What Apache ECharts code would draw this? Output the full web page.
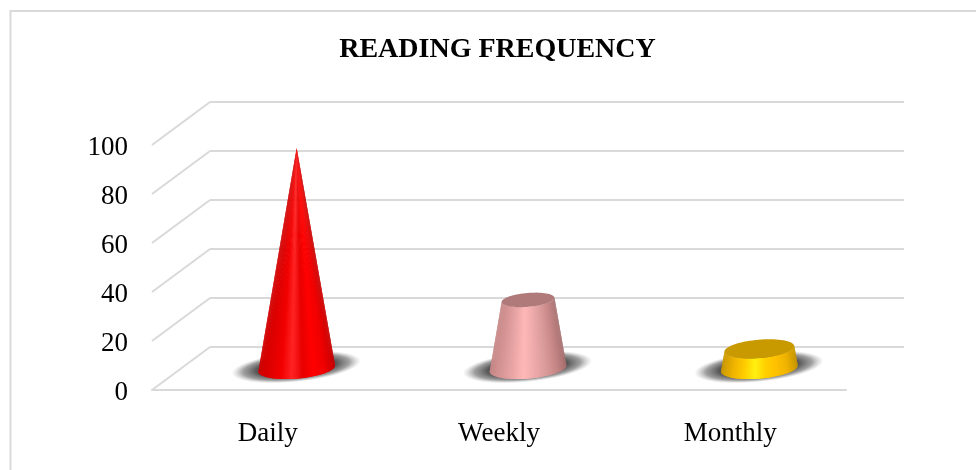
<!DOCTYPE html>
<html>
<head>
<meta charset="utf-8">
<style>html,body{margin:0;padding:0;background:#fff}#chart{width:976px;height:470px}</style>
<script src="https://cdn.jsdelivr.net/npm/echarts@6/dist/echarts.min.js"></script>
</head>
<body>
<div id="chart"></div>
<script>
const titleText = 'READING FREQUENCY';
const categories = ['Daily', 'Weekly', 'Monthly'];
const readingValues = [90, 28, 8];
const tickValues = [0, 20, 40, 60, 80, 100];
const bodyColors = [
  ['#c80000', '#f00000', '#ff0000', '#e80000', '#ff2424', '#f20000', '#e00000', '#d00000'],
  ['#a87070', '#c88888', '#dc9c9c', '#eeaaaa', '#ffb8b8', '#eaa6a6', '#d89696', '#c88888'],
  ['#c89600', '#f0b400', '#ffc000', '#ffd000', '#fff010', '#ffcc00', '#f0b400', '#cc9a00']
];
const capColors = ['#e00000', '#b07a7a', '#c99a00'];

const GRID_COLOR = '#d9d9d9';
const FONT = '"Liberation Serif", "Times New Roman", serif';
const DEPTH_X = 58, DEPTH_Y = 43;
const BASE_A = 38.5, FLAT = 0.262, TILT = 0.085;
const LABEL_SHIFT = 2.5;
const maxValue = Math.max.apply(null, readingValues);

function ellipsePoint(cx, cy, a, b, t) {
  const ex = a * Math.cos(t), ey = b * Math.sin(t);
  return [
    cx + ex * Math.cos(TILT) + ey * Math.sin(TILT),
    cy - ex * Math.sin(TILT) + ey * Math.cos(TILT)
  ];
}

function renderDiagonal(params, api) {
  const y = api.coord([0, api.value(0)])[1];
  const x = params.coordSys.x;
  return {
    type: 'line',
    shape: { x1: x, y1: y, x2: x + DEPTH_X, y2: y - DEPTH_Y },
    style: { stroke: GRID_COLOR, lineWidth: 2 }
  };
}

function renderCone(params, api) {
  const idx = api.value(0), val = api.value(1);
  const base = api.coord([idx, 0]);
  const top = api.coord([idx, val]);
  const cx = base[0] + DEPTH_X / 2;
  const by = base[1] - DEPTH_Y / 2;
  const ty = top[1] - DEPTH_Y / 2;
  const aTop = BASE_A * (1 - val / maxValue);
  const bTop = aTop * FLAT;
  const bBase = BASE_A * FLAT;
  const children = [];
  children.push({
    type: 'circle',
    shape: { cx: 0, cy: 0, r: 1 },
    x: cx - 0.5, y: by - 1.5,
    scaleX: 65, scaleY: 15,
    rotation: 0.1,
    style: {
      fill: new echarts.graphic.RadialGradient(0.5, 0.5, 0.5, [
        { offset: 0, color: 'rgba(84,84,84,1)' },
        { offset: 0.62, color: 'rgba(88,88,88,1)' },
        { offset: 0.82, color: 'rgba(120,120,120,0.7)' },
        { offset: 1, color: 'rgba(170,170,170,0)' }
      ])
    }
  });
  const N = 90;
  const cols = bodyColors[idx];
  for (let i = 0; i < N; i++) {
    const t0 = Math.PI * (1 - i / N);
    const t1 = Math.PI * (1 - Math.min(i + 2, N) / N);
    const s = (1 - Math.cos(t0 + Math.PI / N / 2 * -1)) / 2;
    const c = echarts.color.lerp(s, cols);
    children.push({
      type: 'polygon',
      shape: { points: [
        ellipsePoint(cx, by, BASE_A, bBase, t0),
        ellipsePoint(cx, by, BASE_A, bBase, (t0 + t1) / 2),
        ellipsePoint(cx, by, BASE_A, bBase, t1),
        ellipsePoint(cx, ty, aTop, bTop, t1),
        ellipsePoint(cx, ty, aTop, bTop, t0)
      ] },
      style: { fill: c }
    });
  }
  if (aTop > 0.5) {
    const pts = [];
    for (let i = 0; i < 72; i++) pts.push(ellipsePoint(cx, ty, aTop, bTop, i / 72 * Math.PI * 2));
    children.push({ type: 'polygon', shape: { points: pts }, style: { fill: capColors[idx] } });
  }
  return { type: 'group', children: children };
}

const chart = echarts.init(document.getElementById('chart'), null, { renderer: 'canvas' });
chart.setOption({
  animation: false,
  backgroundColor: '#ffffff',
  title: {
    text: titleText, left: 492.5, top: 31, textAlign: 'center',
    textStyle: { fontFamily: FONT, fontSize: 28, fontWeight: 'bold', color: '#000' }
  },
  graphic: [{
    type: 'rect', z: -10,
    shape: { x: 10.5, y: 11, width: 1100, height: 800 },
    style: { fill: 'none', stroke: GRID_COLOR, lineWidth: 2 }
  }],
  grid: [
    { left: 152, right: 130, top: 145, bottom: 80 },
    { left: 152 + DEPTH_X, right: 130 - DEPTH_X, top: 145 - DEPTH_Y, bottom: 80 + DEPTH_Y },
    { left: 152, right: 130, top: 145 + LABEL_SHIFT, bottom: 80 - LABEL_SHIFT }
  ],
  xAxis: [
    {
      type: 'category', data: categories, gridIndex: 0,
      axisLine: { show: true, lineStyle: { color: GRID_COLOR, width: 2 } },
      axisTick: { show: false },
      axisLabel: { fontFamily: FONT, fontSize: 27, color: '#000', margin: 30 }
    },
    { type: 'category', data: categories, gridIndex: 1, show: false },
    { type: 'category', data: categories, gridIndex: 2, show: false }
  ],
  yAxis: [
    {
      type: 'value', min: 0, max: 100, interval: 20, gridIndex: 0,
      axisLine: { show: false }, axisTick: { show: false }, splitLine: { show: false },
      axisLabel: { show: false }
    },
    {
      type: 'value', min: 0, max: 100, interval: 20, gridIndex: 1,
      axisLine: { show: false }, axisTick: { show: false }, axisLabel: { show: false },
      splitLine: { show: true, lineStyle: { color: GRID_COLOR, width: 2 } }
    },
    {
      type: 'value', min: 0, max: 100, interval: 20, gridIndex: 2,
      axisLine: { show: false }, axisTick: { show: false }, splitLine: { show: false },
      axisLabel: { fontFamily: FONT, fontSize: 27, color: '#000', margin: 24 }
    }
  ],
  series: [
    {
      type: 'custom', xAxisIndex: 0, yAxisIndex: 0, clip: false, silent: true,
      data: tickValues.map(v => [v]), encode: { y: 0 },
      renderItem: renderDiagonal
    },
    {
      type: 'custom', xAxisIndex: 0, yAxisIndex: 0, clip: false, silent: true,
      data: readingValues.map((v, i) => [i, v]), encode: { x: 0, y: 1 },
      renderItem: renderCone
    }
  ]
});
</script>
</body>
</html>
